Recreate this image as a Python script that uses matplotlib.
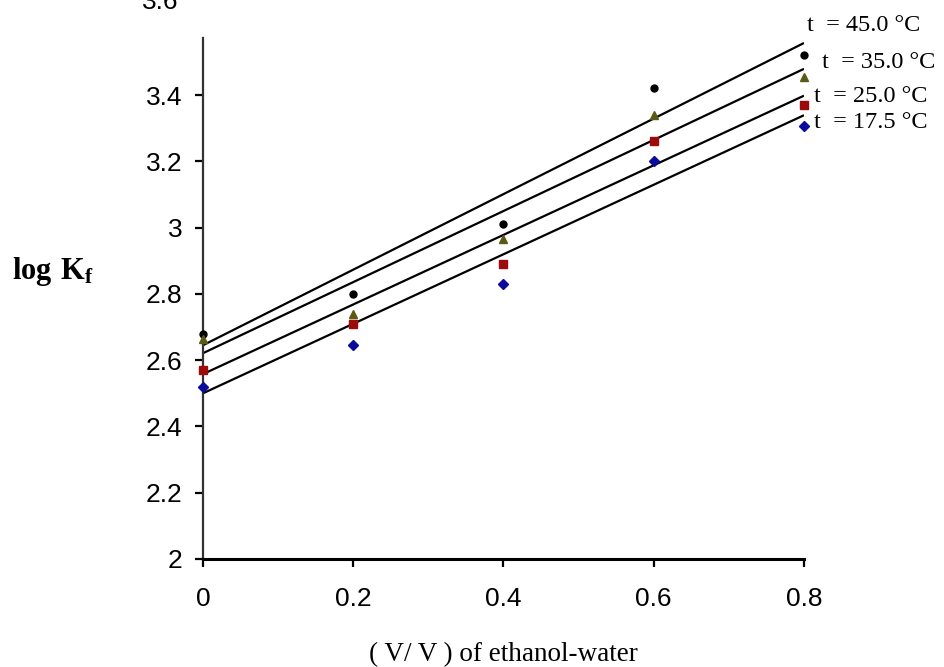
import matplotlib
matplotlib.use("Agg")
import matplotlib.pyplot as plt
from matplotlib import font_manager

# ---- data ----
x_frac = [0.0, 0.2, 0.4, 0.6, 0.8]
logk_45 = [2.68, 2.80, 3.01, 3.42, 3.52]
logk_35 = [2.665, 2.74, 2.965, 3.34, 3.455]
logk_25 = [2.57, 2.71, 2.89, 3.26, 3.37]
logk_175 = [2.52, 2.645, 2.83, 3.20, 3.305]

# trend lines drawn in the figure (values at x = 0 and x = 0.8)
line_x = [0.0, 0.8]
line_45 = [2.645, 3.557]
line_35 = [2.621, 3.479]
line_25 = [2.558, 3.398]
line_175 = [2.50, 3.339]

series_labels = ["t  = 45.0 °C", "t  = 35.0 °C", "t  = 25.0 °C", "t  = 17.5 °C"]
y_ticks = [2.0, 2.2, 2.4, 2.6, 2.8, 3.0, 3.2, 3.4]
y_ticklabels = ["2", "2.2", "2.4", "2.6", "2.8", "3", "3.2", "3.4"]
x_ticks = [0.0, 0.2, 0.4, 0.6, 0.8]
x_ticklabels = ["0", "0.2", "0.4", "0.6", "0.8"]

names = {f.name for f in font_manager.fontManager.ttflist}
sans = "Liberation Sans Narrow" if "Liberation Sans Narrow" in names else "Liberation Sans"
serif = "Liberation Serif"

plt.rcParams["mathtext.fontset"] = "custom"
plt.rcParams["mathtext.rm"] = "Liberation Serif"
plt.rcParams["mathtext.bf"] = "Liberation Serif:bold"

fig = plt.figure(figsize=(9.45, 6.67), dpi=100)
ax = fig.add_axes([203 / 945, 1 - 559 / 667, 601 / 945, (559 - 38) / 667])

colors = ["#000000", "#5a5a14", "#9c0a0a", "#0a0a9c"]
markers = ["o", "^", "s", "D"]
msizes = [5, 6, 6, 5]
pts = [logk_45, logk_35, logk_25, logk_175]
lines = [line_45, line_35, line_25, line_175]

for ln in lines:
    ax.plot(line_x, ln, color="black", lw=1.6, solid_capstyle="butt")
for p, c, m, s in zip(pts, colors, markers, msizes):
    ax.plot(x_frac, p, linestyle="none", marker=m, color=c, ms=s, clip_on=False, zorder=5)

ax.set_xlim(0, 0.8)
ax.set_ylim(2.0, 3.572)
ax.set_yticks(y_ticks)
ax.set_yticklabels(y_ticklabels)
ax.set_xticks(x_ticks)
ax.set_xticklabels(x_ticklabels)

for sp in ["top", "right"]:
    ax.spines[sp].set_visible(False)
ax.spines["left"].set_linewidth(1.6)
ax.spines["left"].set_color("#333333")
ax.spines["bottom"].set_linewidth(2.2)
ax.tick_params(axis="both", direction="out", length=6, width=1.6, color="black",
               labelsize=19)
ax.tick_params(axis="y", pad=9)
ax.tick_params(axis="x", pad=14)
for lab in ax.get_xticklabels() + ax.get_yticklabels():
    lab.set_fontfamily(sans)

# partially visible 3.6 label at the clipped top
fig.text(178 / 945, 1 - 9 / 667, "3.6", ha="right", va="baseline",
         fontsize=19, family=sans)

# series labels
label_pos = [(0.804, 3.611), (0.824, 3.497), (0.813, 3.394), (0.813, 3.316)]
for (lx, ly), t in zip(label_pos, series_labels):
    ax.text(lx, ly, t, fontsize=17.5, family=serif, ha="left", va="center", clip_on=False)

fig.text(12 / 945, 1 - 272 / 667, r"$\mathbf{log\ K_f}$", fontsize=22,
         ha="left", va="center")
fig.text(503 / 945, 1 - 655 / 667, "( V/ V ) of ethanol-water", fontsize=19.5,
         family=serif, ha="center", va="center")

fig.savefig("out.png", dpi=100)
